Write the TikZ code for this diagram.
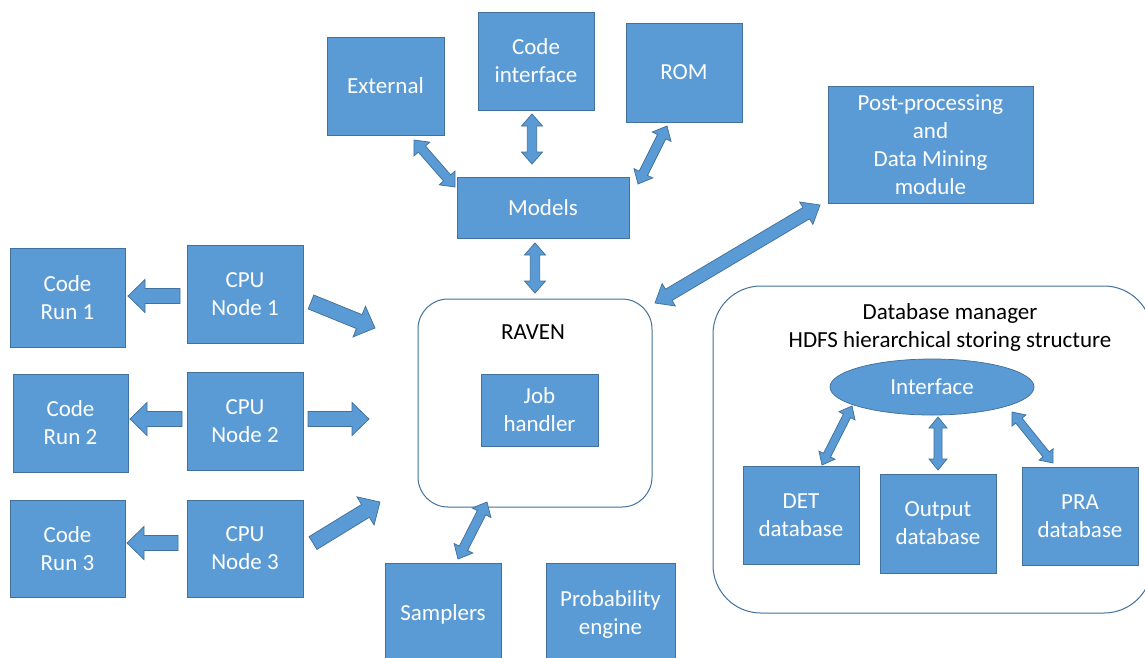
\documentclass[tikz,border=0pt]{standalone}
\usepackage{fontspec}
\setmainfont{Carlito}
\usetikzlibrary{calc,shapes.geometric}
\definecolor{boxblue}{HTML}{5B9BD5}
\definecolor{edgeblue}{HTML}{41719C}
\tikzset{
  box/.style={draw=edgeblue, line width=0.75pt, fill=boxblue, text=white, align=center,
    inner sep=0pt, font=\fontsize{23}{28}\selectfont},
  arr/.style={draw=edgeblue, line width=0.75pt, fill=boxblue, line join=miter},
  frame/.style={draw=edgeblue, line width=1pt, fill=white},
  lbl/.style={text=black, font=\fontsize{23}{28}\selectfont, inner sep=0pt, align=center},
}
% name, x1, y1, x2, y2, text
\newcommand\mkbox[6]{%
  \node[box, minimum width={(#4-#2)*1pt}, minimum height={(#5-#3)*1pt}] (#1) at ({(#2+#4)/2},{(#3+#5)/2}) {#6};}
% single block arrow: from, to, half shaft, half head, head length
\newcommand\sarr[5]{%
  \path (#1); \pgfgetlastxy{\ax}{\ay}
  \path (#2); \pgfgetlastxy{\bx}{\by}
  \pgfmathsetmacro\ang{atan2((\by)-(\ay),(\bx)-(\ax))}
  \pgfmathsetmacro\len{veclen((\bx)-(\ax),(\by)-(\ay))}
  \pgfmathsetmacro\hb{\len-#5}
  \draw[arr, shift={(#1)}, rotate=\ang] (0pt,-#3pt) -- (\hb pt,-#3pt) -- (\hb pt,-#4pt)
    -- (\len pt,0pt) -- (\hb pt,#4pt) -- (\hb pt,#3pt) -- (0pt,#3pt) -- cycle;}
% double block arrow
\newcommand\darr[5]{%
  \path (#1); \pgfgetlastxy{\ax}{\ay}
  \path (#2); \pgfgetlastxy{\bx}{\by}
  \pgfmathsetmacro\ang{atan2((\by)-(\ay),(\bx)-(\ax))}
  \pgfmathsetmacro\len{veclen((\bx)-(\ax),(\by)-(\ay))}
  \pgfmathsetmacro\hb{\len-#5}
  \draw[arr, shift={(#1)}, rotate=\ang] (0pt,0pt) -- (#5pt,#4pt) -- (#5pt,#3pt) -- (\hb pt,#3pt)
    -- (\hb pt,#4pt) -- (\len pt,0pt) -- (\hb pt,-#4pt) -- (\hb pt,-#3pt) -- (#5pt,-#3pt)
    -- (#5pt,-#4pt) -- cycle;}
\begin{document}
\begin{tikzpicture}[x=1pt,y=-1pt]
\useasboundingbox (0,0) rectangle (1145,657);
% frames
\draw[frame, rounded corners=30pt] (418,299) rectangle (652,507);
\node[lbl] (raventitle) at (533,332) {RAVEN};
\draw[frame, rounded corners=48pt] (713,286) rectangle (1152,613);
\node[lbl] (dbtitle) at (950,327.5) {Database manager\\HDFS hierarchical storing structure};
% boxes
\mkbox{ext}{327}{37}{444}{135}{External}
\mkbox{ci}{478}{12}{594}{110}{Code\\interface}
\mkbox{rom}{626}{23}{742}{122}{ROM}
\mkbox{models}{457}{177}{629}{238}{Models}
\mkbox{post}{828}{86}{1033}{203}{Post-processing\\and\\Data Mining\\module}
\mkbox{cr1}{10}{248}{125}{347}{Code\\Run 1}
\mkbox{cpu1}{187}{245}{303}{343}{CPU\\Node 1}
\mkbox{cr2}{13}{374}{128}{472}{Code\\Run 2}
\mkbox{cpu2}{187}{372}{303}{470}{CPU\\Node 2}
\mkbox{cr3}{10}{500}{125}{597}{Code\\Run 3}
\mkbox{cpu3}{187}{500}{303}{597}{CPU\\Node 3}
\mkbox{jh}{481}{374}{598}{446}{Job\\handler}
\mkbox{samp}{385}{563}{501}{665}{Samplers}
\mkbox{prob}{546}{563}{675}{665}{Probability\\engine}
\node[box, ellipse, minimum width=204pt, minimum height=56pt] (iface) at (932,387) {Interface};
\mkbox{det}{743}{466}{859}{564}{DET\\database}
\mkbox{out}{880}{474}{996}{573}{Output\\database}
\mkbox{pra}{1022}{467}{1138}{565}{PRA\\database}
% connector end points
\coordinate (ext-a) at (414,140);   \coordinate (mod-ext) at (455,187);
\coordinate (ci-a) at (532,114);    \coordinate (mod-ci) at (532,164);
\coordinate (rom-a) at (667,126);   \coordinate (mod-rom) at (638,184);
\coordinate (mod-b) at (535,243);   \coordinate (rav-top) at (535,293);
\coordinate (post-a) at (820,205);  \coordinate (rav-post) at (655,303);
\coordinate (rav-bot) at (487,502); \coordinate (samp-a) at (458,559);
\coordinate (if-det) at (852,406);  \coordinate (det-a) at (822,465);
\coordinate (if-out) at (938,417);  \coordinate (out-a) at (938,470);
\coordinate (if-pra) at (1012,412); \coordinate (pra-a) at (1053,463);
\coordinate (cpu1-r) at (311,302);  \coordinate (rav-1) at (375,328);
\coordinate (cpu2-r) at (308,419);  \coordinate (rav-2) at (369,419);
\coordinate (cpu3-r) at (313,543);  \coordinate (rav-3) at (380,502);
\coordinate (cpu1-l) at (180,296);  \coordinate (cr1-r) at (128,296);
\coordinate (cpu2-l) at (182,419);  \coordinate (cr2-r) at (130,419);
\coordinate (cpu3-l) at (178,543);  \coordinate (cr3-r) at (127,543);
% connectors
\darr{ext-a}{mod-ext}{4.7}{10.5}{12}
\darr{ci-a}{mod-ci}{4.7}{10.5}{12}
\darr{rom-a}{mod-rom}{4.7}{10.5}{12}
\darr{mod-b}{rav-top}{4.7}{10.5}{12}
\darr{post-a}{rav-post}{6.5}{13}{16}
\darr{rav-bot}{samp-a}{4.7}{10.5}{12}
\darr{if-det}{det-a}{4}{9}{11}
\darr{if-out}{out-a}{4}{9}{11}
\darr{if-pra}{pra-a}{4}{9}{11}
\sarr{cpu1-r}{rav-1}{7.5}{16.5}{17}
\sarr{cpu2-r}{rav-2}{7.5}{16.5}{17}
\sarr{cpu3-r}{rav-3}{7.5}{16.5}{17}
\sarr{cpu1-l}{cr1-r}{7.5}{16.5}{17}
\sarr{cpu2-l}{cr2-r}{7.5}{16.5}{17}
\sarr{cpu3-l}{cr3-r}{7.5}{16.5}{17}
\end{tikzpicture}
\end{document}
